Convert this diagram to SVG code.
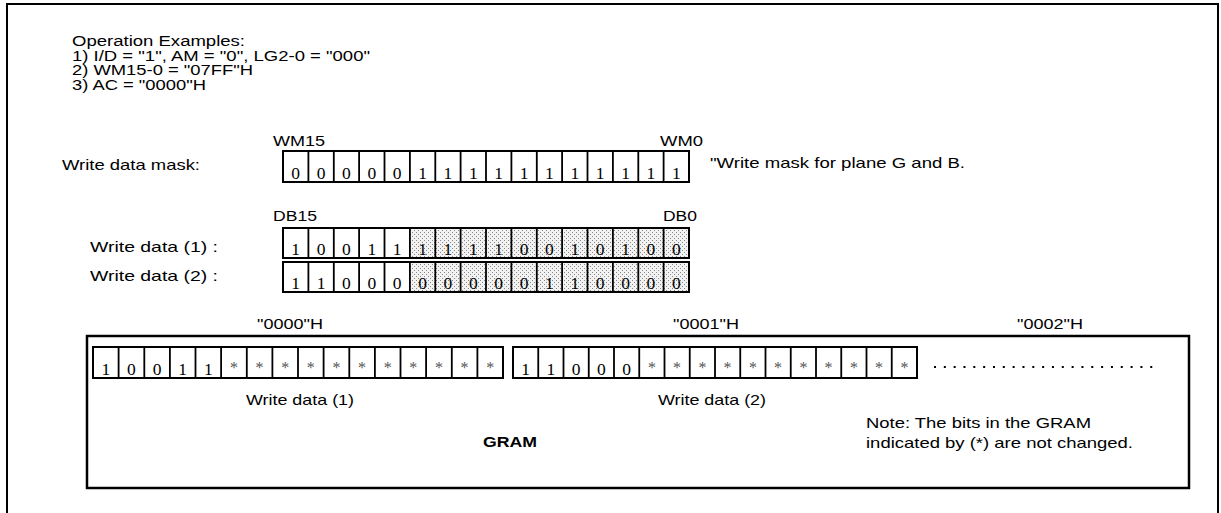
<svg xmlns="http://www.w3.org/2000/svg" width="1221" height="513" viewBox="0 0 1221 513">
<style>
.t{font-family:"Liberation Sans",Arial,sans-serif;font-size:15px;fill:#000}
.e{font-family:"Liberation Sans",Arial,sans-serif;font-size:14px;fill:#000}
.d{font-family:"Liberation Serif","Times New Roman",serif;font-size:17.5px;fill:#000;text-anchor:middle}
.s{font-family:"Liberation Serif","Times New Roman",serif;font-size:16px;fill:#555;text-anchor:middle}
.box{fill:none;stroke:#000;stroke-width:2}
.div{fill:none;stroke:#000;stroke-width:1.8}
.c{text-anchor:middle}
</style>
<defs>
<pattern id="dots" width="4" height="4" patternUnits="userSpaceOnUse">
<rect width="4" height="4" fill="#f2f2f2"/>
<rect x="0" y="0" width="1" height="1" fill="#888"/>
<rect x="2" y="2" width="1" height="1" fill="#888"/>
</pattern>
</defs>
<rect x="7" y="4" width="1211" height="530" fill="#fff" stroke="#000" stroke-width="2"/>

<g id="examples">
<text class="e" x="72" y="46" textLength="173" lengthAdjust="spacingAndGlyphs">Operation Examples:</text>
<text class="e" x="72" y="60.7" textLength="298" lengthAdjust="spacingAndGlyphs">1) I/D = "1", AM = "0", LG2-0 = "000"</text>
<text class="e" x="72" y="75.4" textLength="181" lengthAdjust="spacingAndGlyphs">2) WM15-0 = "07FF"H</text>
<text class="e" x="72" y="90" textLength="134" lengthAdjust="spacingAndGlyphs">3) AC = "0000"H</text>
</g>

<g id="mask">
<text class="t" x="62" y="170" textLength="138" lengthAdjust="spacingAndGlyphs">Write data mask:</text>
<text class="t" x="273" y="146" textLength="52" lengthAdjust="spacingAndGlyphs">WM15</text>
<text class="t" x="660" y="146" textLength="43" lengthAdjust="spacingAndGlyphs">WM0</text>
<text class="t" x="710" y="168" textLength="255" lengthAdjust="spacingAndGlyphs">"Write mask for plane G and B.</text>
<rect class="box" x="283" y="151" width="406" height="31"/>
<path class="div" d="M308.4 151V182M333.8 151V182M359.1 151V182M384.5 151V182M409.9 151V182M435.3 151V182M460.6 151V182M486 151V182M511.4 151V182M536.8 151V182M562.1 151V182M587.5 151V182M612.9 151V182M638.3 151V182M663.6 151V182"/>
<text class="d" y="179"><tspan x="295.7">0</tspan><tspan x="321.1">0</tspan><tspan x="346.4">0</tspan><tspan x="371.8">0</tspan><tspan x="397.2">0</tspan><tspan x="422.6">1</tspan><tspan x="447.9">1</tspan><tspan x="473.3">1</tspan><tspan x="498.7">1</tspan><tspan x="524.1">1</tspan><tspan x="549.4">1</tspan><tspan x="574.8">1</tspan><tspan x="600.2">1</tspan><tspan x="625.6">1</tspan><tspan x="650.9">1</tspan><tspan x="676.3">1</tspan></text>
</g>

<g id="data">
<text class="t" x="273" y="221" textLength="44" lengthAdjust="spacingAndGlyphs">DB15</text>
<text class="t" x="663" y="221" textLength="34" lengthAdjust="spacingAndGlyphs">DB0</text>
<text class="t" x="90" y="252" textLength="128" lengthAdjust="spacingAndGlyphs">Write data (1) :</text>
<text class="t" x="90" y="281" textLength="128" lengthAdjust="spacingAndGlyphs">Write data (2) :</text>
<rect x="409.9" y="228" width="279.1" height="30" fill="url(#dots)"/>
<rect x="409.9" y="262" width="279.1" height="30" fill="url(#dots)"/>
<rect class="box" x="283" y="228" width="406" height="30"/>
<rect class="box" x="283" y="262" width="406" height="30"/>
<path class="div" d="M308.4 228V258M333.8 228V258M359.1 228V258M384.5 228V258M409.9 228V258M435.3 228V258M460.6 228V258M486 228V258M511.4 228V258M536.8 228V258M562.1 228V258M587.5 228V258M612.9 228V258M638.3 228V258M663.6 228V258"/>
<path class="div" d="M308.4 262V292M333.8 262V292M359.1 262V292M384.5 262V292M409.9 262V292M435.3 262V292M460.6 262V292M486 262V292M511.4 262V292M536.8 262V292M562.1 262V292M587.5 262V292M612.9 262V292M638.3 262V292M663.6 262V292"/>
<text class="d" y="255"><tspan x="295.7">1</tspan><tspan x="321.1">0</tspan><tspan x="346.4">0</tspan><tspan x="371.8">1</tspan><tspan x="397.2">1</tspan><tspan x="422.6">1</tspan><tspan x="447.9">1</tspan><tspan x="473.3">1</tspan><tspan x="498.7">1</tspan><tspan x="524.1">0</tspan><tspan x="549.4">0</tspan><tspan x="574.8">1</tspan><tspan x="600.2">0</tspan><tspan x="625.6">1</tspan><tspan x="650.9">0</tspan><tspan x="676.3">0</tspan></text>
<text class="d" y="289"><tspan x="295.7">1</tspan><tspan x="321.1">1</tspan><tspan x="346.4">0</tspan><tspan x="371.8">0</tspan><tspan x="397.2">0</tspan><tspan x="422.6">0</tspan><tspan x="447.9">0</tspan><tspan x="473.3">0</tspan><tspan x="498.7">0</tspan><tspan x="524.1">0</tspan><tspan x="549.4">1</tspan><tspan x="574.8">1</tspan><tspan x="600.2">0</tspan><tspan x="625.6">0</tspan><tspan x="650.9">0</tspan><tspan x="676.3">0</tspan></text>
</g>

<g id="gram">
<text class="t c" x="290" y="329" textLength="66" lengthAdjust="spacingAndGlyphs">"0000"H</text>
<text class="t c" x="706" y="329" textLength="66" lengthAdjust="spacingAndGlyphs">"0001"H</text>
<text class="t c" x="1050" y="329" textLength="66" lengthAdjust="spacingAndGlyphs">"0002"H</text>
<rect x="87" y="336" width="1102" height="152" fill="none" stroke="#000" stroke-width="2.5"/>
<rect class="box" x="93" y="347" width="410" height="31"/>
<path class="div" d="M118.6 347V378M144.3 347V378M169.9 347V378M195.5 347V378M221.1 347V378M246.8 347V378M272.4 347V378M298 347V378M323.6 347V378M349.3 347V378M374.9 347V378M400.5 347V378M426.1 347V378M451.8 347V378M477.4 347V378"/>
<text class="d" y="375"><tspan x="105.8">1</tspan><tspan x="131.4">0</tspan><tspan x="157.1">0</tspan><tspan x="182.7">1</tspan><tspan x="208.3">1</tspan></text>
<text class="s" y="373"><tspan x="233.9">*</tspan><tspan x="259.6">*</tspan><tspan x="285.2">*</tspan><tspan x="310.8">*</tspan><tspan x="336.4">*</tspan><tspan x="362.1">*</tspan><tspan x="387.7">*</tspan><tspan x="413.3">*</tspan><tspan x="438.9">*</tspan><tspan x="464.6">*</tspan><tspan x="490.2">*</tspan></text>
<rect class="box" x="513" y="347" width="404" height="31"/>
<path class="div" d="M538.25 347V378M563.5 347V378M588.75 347V378M614 347V378M639.25 347V378M664.5 347V378M689.75 347V378M715 347V378M740.25 347V378M765.5 347V378M790.75 347V378M816 347V378M841.25 347V378M866.5 347V378M891.75 347V378"/>
<text class="d" y="375"><tspan x="525.6">1</tspan><tspan x="550.9">1</tspan><tspan x="576.1">0</tspan><tspan x="601.4">0</tspan><tspan x="626.6">0</tspan></text>
<text class="s" y="373"><tspan x="651.9">*</tspan><tspan x="677.1">*</tspan><tspan x="702.4">*</tspan><tspan x="727.6">*</tspan><tspan x="752.9">*</tspan><tspan x="778.1">*</tspan><tspan x="803.4">*</tspan><tspan x="828.6">*</tspan><tspan x="853.9">*</tspan><tspan x="879.1">*</tspan><tspan x="904.4">*</tspan></text>
<line x1="934" y1="367" x2="1160" y2="367" stroke="#000" stroke-width="2" stroke-dasharray="2 7.83"/>
<text class="t c" x="300" y="405" textLength="108" lengthAdjust="spacingAndGlyphs">Write data (1)</text>
<text class="t c" x="712" y="405" textLength="108" lengthAdjust="spacingAndGlyphs">Write data (2)</text>
<text class="t c" x="510" y="447" font-weight="bold" textLength="54" lengthAdjust="spacingAndGlyphs">GRAM</text>
<text class="t" x="866" y="428" textLength="225" lengthAdjust="spacingAndGlyphs">Note: The bits in the GRAM</text>
<text class="t" x="866" y="448" textLength="267" lengthAdjust="spacingAndGlyphs">indicated by (*) are not changed.</text>
</g>
</svg>
